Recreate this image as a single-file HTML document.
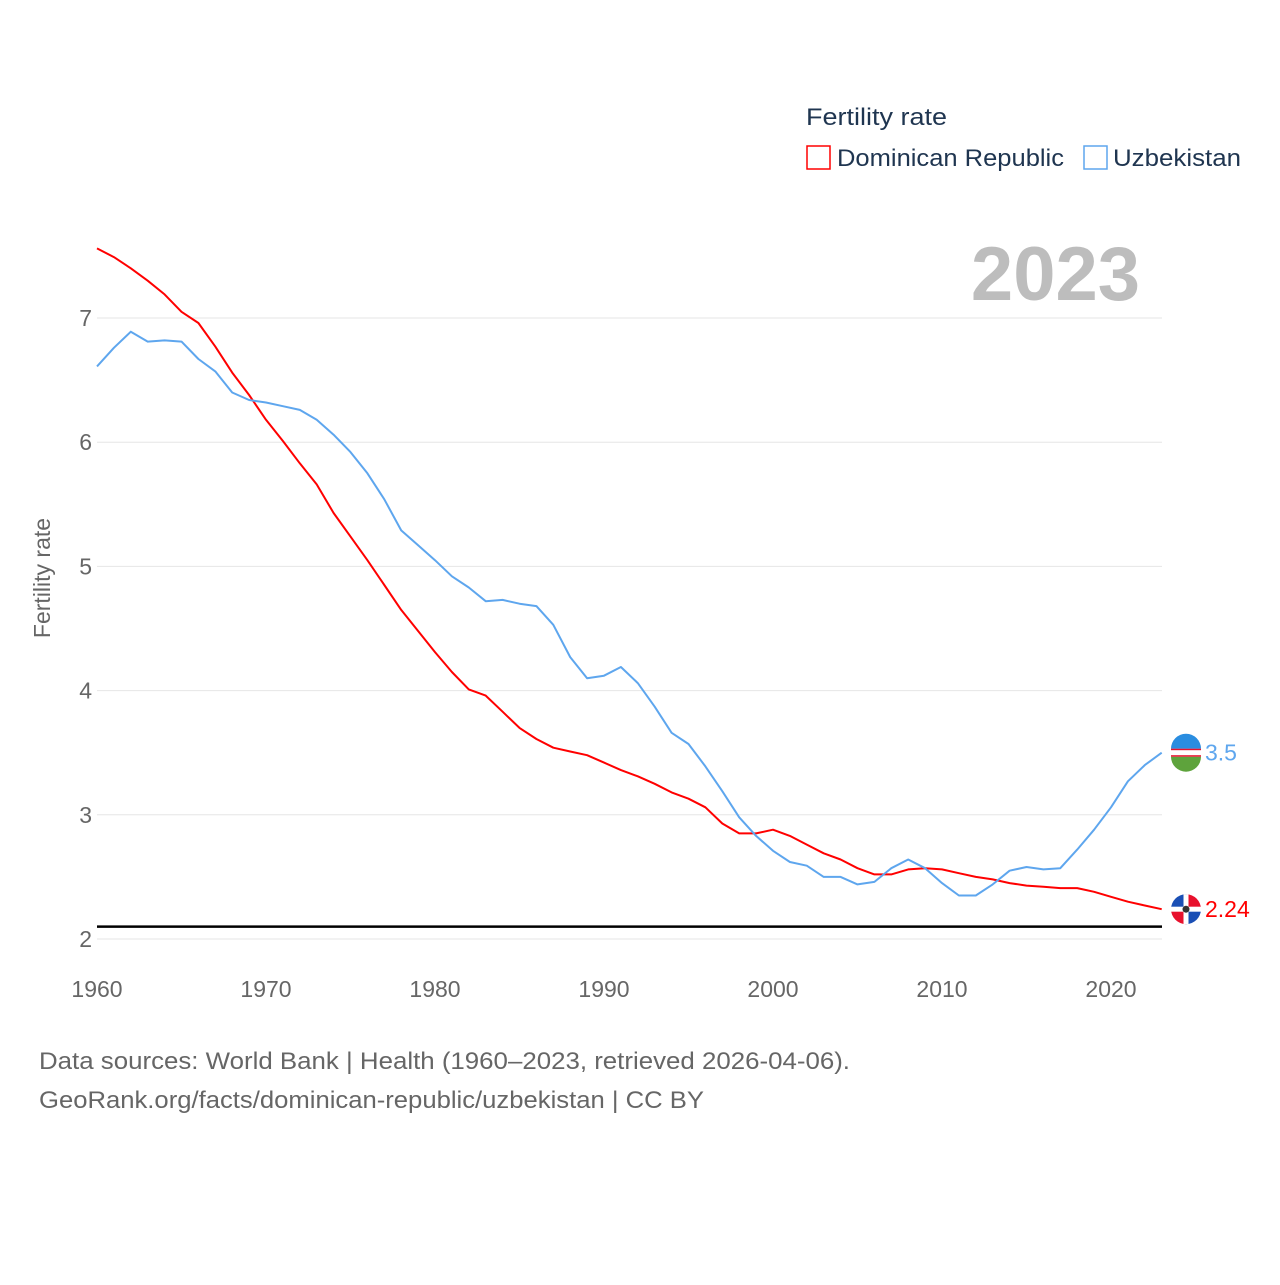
<!DOCTYPE html>
<html><head><meta charset="utf-8"><style>
body{margin:0;background:#fff;font-family:"Liberation Sans",sans-serif;}
svg text{font-family:"Liberation Sans",sans-serif;}
</style></head><body>
<svg id="chart" width="1280" height="1280" viewBox="0 0 1280 1280">
<g>
<text x="806" y="125" font-size="24" fill="#1f3550" textLength="141" lengthAdjust="spacingAndGlyphs">Fertility rate</text>
<rect x="807" y="146" width="23" height="23" fill="none" stroke="#ff0000" stroke-width="1.5"/>
<text x="837" y="166" font-size="24" fill="#1f3550" textLength="227" lengthAdjust="spacingAndGlyphs">Dominican Republic</text>
<rect x="1084" y="146" width="23" height="23" fill="none" stroke="#5ea6ee" stroke-width="1.5"/>
<text x="1113" y="166" font-size="24" fill="#1f3550" textLength="128" lengthAdjust="spacingAndGlyphs">Uzbekistan</text>
</g>
<text x="1140" y="300" font-size="76" font-weight="bold" fill="#bdbdbd" text-anchor="end">2023</text>
<g id="grid"></g>
<g id="yticks"></g>
<g id="xticks"></g>
<text transform="translate(50,578) rotate(-90)" font-size="23" fill="#666" text-anchor="middle">Fertility rate</text>
<line id="ref" stroke="#000" stroke-width="2.5"/>
<g id="series"></g>
<text x="39" y="1069" font-size="24" fill="#666" textLength="811" lengthAdjust="spacingAndGlyphs">Data sources: World Bank | Health (1960–2023, retrieved 2026-04-06).</text>
<text x="39" y="1108" font-size="24" fill="#666" textLength="665" lengthAdjust="spacingAndGlyphs">GeoRank.org/facts/dominican-republic/uzbekistan | CC BY</text>
</svg>
<script>
const years=[];for(let y=1960;y<=2023;y++)years.push(y);
const domRep=[7.56,7.49,7.40,7.30,7.19,7.05,6.96,6.77,6.56,6.38,6.18,6.01,5.83,5.66,5.43,5.24,5.05,4.85,4.65,4.48,4.31,4.15,4.01,3.96,3.83,3.70,3.61,3.54,3.51,3.48,3.42,3.36,3.31,3.25,3.18,3.13,3.06,2.93,2.85,2.85,2.88,2.83,2.76,2.69,2.64,2.57,2.52,2.52,2.56,2.57,2.56,2.53,2.50,2.48,2.45,2.43,2.42,2.41,2.41,2.38,2.34,2.30,2.27,2.24];
const uzbek=[6.61,6.76,6.89,6.81,6.82,6.81,6.67,6.57,6.40,6.34,6.32,6.29,6.26,6.18,6.06,5.92,5.75,5.54,5.29,5.17,5.05,4.92,4.83,4.72,4.73,4.70,4.68,4.53,4.27,4.10,4.12,4.19,4.06,3.87,3.66,3.57,3.39,3.19,2.98,2.83,2.71,2.62,2.59,2.50,2.50,2.44,2.46,2.57,2.64,2.57,2.45,2.35,2.35,2.44,2.55,2.58,2.56,2.57,2.72,2.88,3.06,3.27,3.40,3.50];
const yTicks=[2,3,4,5,6,7];
const xTicks=[1960,1970,1980,1990,2000,2010,2020];
const replacement=2.1;
const NS="http://www.w3.org/2000/svg";
const X=y=>97+(y-1960)*(1111-97)/60;
const Y=v=>939-(v-2)*124.2;
function mk(t,a,p){const e=document.createElementNS(NS,t);for(const k in a)e.setAttribute(k,a[k]);p.appendChild(e);return e;}
const grid=document.getElementById('grid'),yt=document.getElementById('yticks'),xt=document.getElementById('xticks');
yTicks.forEach(v=>{
 const l=mk('line',{x1:97,x2:1162,y1:Y(v),y2:Y(v),stroke:'#e6e6e6','stroke-width':1},grid);
 
 
 const t=mk('text',{x:92,y:Y(v)+8,'font-size':23,fill:'#666','text-anchor':'end'},yt);t.textContent=v;
 
 
});
xTicks.forEach(v=>{
 const t=mk('text',{x:X(v),y:997,'font-size':23,fill:'#666','text-anchor':'middle'},xt);t.textContent=v;
 
 
});
const r=document.getElementById('ref');
r.setAttribute('x1',97);r.setAttribute('x2',1162);r.setAttribute('y1',Y(replacement));r.setAttribute('y2',Y(replacement));
const S=document.getElementById('series');
function line(vals,col,name,flag){
 const d=vals.map((v,i)=>(i?'L':'M')+X(years[i]).toFixed(1)+','+Y(v).toFixed(1)).join('');
 const p=mk('path',{d:d,fill:'none',stroke:col,'stroke-width':2,'stroke-linejoin':'round'},S);
 
 
 const last=vals[vals.length-1],cx=1186,cy=Y(last);
 const g=mk('g',{},S);
 
 
 mk('circle',{cx:cx,cy:cy,r:15,fill:'#fff'},g);
 if(flag==='dr'){
  mk('path',{d:`M${cx-15},${cy}A15,15 0 0 1 ${cx},${cy-15}L${cx},${cy}Z`,fill:'#1a4fb5'},g);
  mk('path',{d:`M${cx},${cy-15}A15,15 0 0 1 ${cx+15},${cy}L${cx},${cy}Z`,fill:'#e8112d'},g);
  mk('path',{d:`M${cx-15},${cy}A15,15 0 0 0 ${cx},${cy+15}L${cx},${cy}Z`,fill:'#e8112d'},g);
  mk('path',{d:`M${cx},${cy+15}A15,15 0 0 0 ${cx+15},${cy}L${cx},${cy}Z`,fill:'#1a4fb5'},g);
  mk('rect',{x:cx-15,y:cy-2.5,width:30,height:5,fill:'#fff'},g);
  mk('rect',{x:cx-2.5,y:cy-15,width:5,height:30,fill:'#fff'},g);
  mk('circle',{cx:cx,cy:cy,r:3.5,fill:'#333'},g);
 } else {
  mk('path',{d:`M${cx-15},${cy-4}A15,15 0 0 1 ${cx+15},${cy-4}Z`,fill:'#2a8de0'},g);
  mk('path',{d:`M${cx-15},${cy+4}A15,15 0 0 0 ${cx+15},${cy+4}Z`,fill:'#5ea33c'},g);
  mk('rect',{x:cx-15,y:cy-4,width:30,height:1.5,fill:'#e8112d'},g);
  mk('rect',{x:cx-15,y:cy+2.5,width:30,height:1.5,fill:'#e8112d'},g);
 }
 const t=mk('text',{x:1205,y:cy+8,'font-size':23,fill:col},S);t.textContent=last;
 
 
}
line(domRep,'#ff0000','dominican-republic','dr');
line(uzbek,'#5ea6ee','uzbekistan','uz');
</script>
</body></html>
